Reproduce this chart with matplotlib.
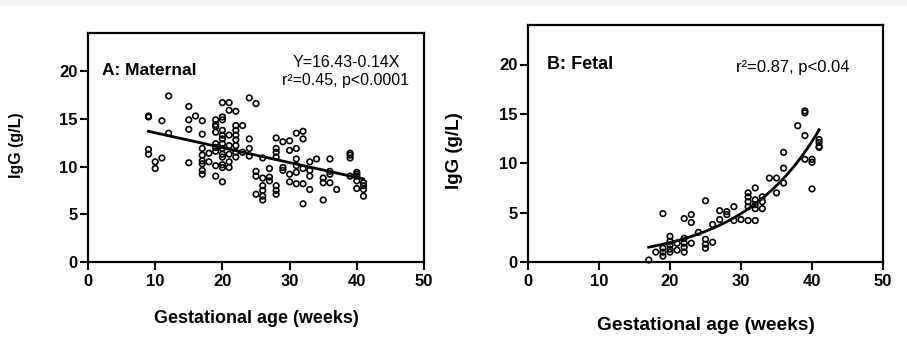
import numpy as np
import matplotlib
matplotlib.use("Agg")
import matplotlib.pyplot as plt
from matplotlib.patches import Rectangle

plt.rcParams['font.family'] = ['Liberation Sans', 'DejaVu Sans']

# maternal IgG (g/L) vs gestational age (weeks)
mat_weeks = [9, 9, 9, 9, 10, 10, 11, 11, 12, 12,
             15, 15, 15, 15, 16,
             17, 17, 17, 17, 17, 17, 17, 17, 18, 18,
             19, 19, 19, 19, 19, 19, 19, 19, 19,
             20, 20, 20, 20, 20, 20, 20, 20, 20, 20, 20, 20, 20,
             21, 21, 21, 21, 21, 21, 21,
             22, 22, 22, 22, 22, 22, 22, 22, 23, 23,
             24, 24, 24, 24, 25, 25, 25, 25,
             26, 26, 26, 26, 26, 26, 27, 27, 27,
             28, 28, 28, 28, 28, 28, 28, 29, 29, 29,
             30, 30, 30, 30, 31, 31, 31, 31, 31, 31,
             32, 32, 32, 32, 32, 33, 33, 33, 33, 34,
             35, 35, 35, 36, 36, 36, 36, 37,
             39, 39, 39, 39, 40, 40, 40, 40, 40, 41, 41, 41, 41]
mat_igg = [15.3, 15.2, 11.8, 11.3, 10.5, 9.8, 14.8, 10.9, 17.4, 13.5,
           16.3, 14.9, 13.9, 10.4, 15.3,
           14.8, 13.4, 11.9, 11.2, 10.6, 10.3, 9.6, 9.2, 11.4, 10.5,
           14.9, 14.4, 14.2, 13.6, 12.4, 12.0, 11.6, 10.1, 9.0,
           16.7, 15.2, 14.9, 13.8, 13.3, 12.9, 12.4, 11.9, 11.3, 11.0, 10.2, 9.9, 8.4,
           16.7, 15.9, 13.3, 12.2, 11.3, 10.5, 9.9,
           15.8, 14.3, 13.8, 13.3, 12.8, 12.2, 11.5, 11.0, 14.3, 11.5,
           17.2, 12.9, 11.9, 11.1, 16.6, 9.5, 9.0, 7.1,
           10.9, 8.8, 8.0, 7.5, 6.9, 6.5, 9.8, 8.9, 8.5,
           13.0, 11.9, 11.5, 11.0, 8.0, 7.5, 7.1, 12.6, 9.9, 9.6,
           12.7, 11.7, 9.2, 8.4, 13.5, 11.9, 10.8, 10.1, 9.4, 8.2,
           13.7, 12.9, 9.8, 8.2, 6.1, 10.5, 9.6, 9.0, 7.6, 10.8,
           8.8, 8.3, 6.5, 10.8, 9.5, 9.2, 8.3, 7.6,
           11.4, 11.2, 10.9, 9.0, 9.4, 9.2, 9.0, 8.5, 7.7, 8.3, 8.0, 7.6, 6.9]

# fetal IgG (g/L) vs gestational age (weeks)
fet_weeks = [17, 18, 19, 19, 19, 19, 20, 20, 20, 20, 20, 21, 21,
             22, 22, 22, 22, 22, 23, 23, 23, 24, 25, 25, 25, 25, 26, 26,
             27, 27, 28, 28, 29, 29, 30,
             31, 31, 31, 31, 31, 32, 32, 32, 32, 32, 33, 33, 33,
             34, 35, 35, 36, 36, 36, 38, 39, 39, 39, 39,
             40, 40, 40, 41, 41, 41, 41]
fet_igg = [0.2, 1.0, 4.9, 1.4, 1.0, 0.6, 2.6, 2.1, 1.7, 1.3, 1.0, 1.9, 1.2,
           4.4, 2.4, 1.9, 1.5, 1.0, 4.8, 4.0, 1.9, 3.0, 6.2, 2.3, 1.8, 1.4, 3.8, 2.0,
           5.2, 4.3, 5.1, 4.8, 5.6, 4.2, 4.3,
           7.0, 6.6, 6.1, 5.6, 4.2, 7.5, 6.3, 5.8, 5.4, 4.2, 6.6, 6.1, 5.4,
           8.5, 8.5, 7.0, 11.1, 9.5, 8.0, 13.8, 15.3, 15.1, 12.8, 10.4,
           10.4, 10.1, 7.4, 12.4, 12.1, 11.7, 11.6]

# fitted lines as drawn in the figure
mat_fit_x = [9, 41]
mat_fit_y = [13.7, 8.7]
fet_fit_range = [17, 41]
fet_fit_a, fet_fit_k = 0.318, 0.0912

W, H = 907, 337
fig = plt.figure(figsize=(W / 100, H / 100), dpi=100)
fig.patches.append(Rectangle((0, 1 - 6 / H), 1, 6 / H, transform=fig.transFigure,
                             facecolor='#f3f4f4', edgecolor='none', zorder=-1))


def px_axes(left, top, right, bottom):
    return fig.add_axes([left / W, 1 - bottom / H, (right - left) / W, (bottom - top) / H])


axA = px_axes(88, 33, 424, 262)
axB = px_axes(528, 25, 883, 262)

for ax in (axA, axB):
    ax.set_xlim(0, 50)
    ax.set_ylim(0, 24)
    ax.set_xticks([0, 10, 20, 30, 40, 50])
    ax.set_yticks([0, 5, 10, 15, 20])
    for s in ax.spines.values():
        s.set_linewidth(1.6)
    ax.tick_params(length=6, width=1.5, labelsize=12, pad=1.5)
    ax.tick_params(axis='x', pad=3)
    for lab in ax.get_xticklabels() + ax.get_yticklabels():
        lab.set_fontweight('bold')

# panel A
axA.scatter(mat_weeks, mat_igg, s=16, facecolors='none', edgecolors='black', linewidths=1.2, zorder=3)
axA.plot(mat_fit_x, mat_fit_y, color='black', lw=2, zorder=2)
axA.text(2.1, 20.1, "A: Maternal", fontsize=12.5, fontweight='bold', va='center', ha='left')
axA.text(38.4, 20.9, "Y=16.43-0.14X", fontsize=11.5, va='center', ha='center')
axA.text(38.3, 19.0, "r\u00b2=0.45, p<0.0001", fontsize=11.5, va='center', ha='center')
axA.set_xlabel("Gestational age (weeks)", fontsize=13, fontweight='bold')
axA.set_ylabel("IgG (g/L)", fontsize=11.5, fontweight='bold')
axA.xaxis.set_label_coords(0.5, -0.21)
axA.yaxis.set_label_coords(-0.19, 0.51)

# panel B
axB.scatter(fet_weeks, fet_igg, s=16, facecolors='none', edgecolors='black', linewidths=1.2, zorder=3, clip_on=False)
xf = np.linspace(fet_fit_range[0], fet_fit_range[1], 100)
axB.plot(xf, fet_fit_a * np.exp(fet_fit_k * xf), color='black', lw=2, zorder=2)
axB.text(2.7, 20.05, "B: Fetal", fontsize=13, fontweight='bold', va='center', ha='left')
axB.text(37.3, 19.65, "r\u00b2=0.87, p<0.04", fontsize=12, va='center', ha='center')
axB.set_xlabel("Gestational age (weeks)", fontsize=13.8, fontweight='bold')
axB.set_ylabel("IgG (g/L)", fontsize=13.5, fontweight='bold')
axB.xaxis.set_label_coords(0.5, -0.232)
axB.yaxis.set_label_coords(-0.183, 0.468)

fig.savefig("out.png", dpi=100)
